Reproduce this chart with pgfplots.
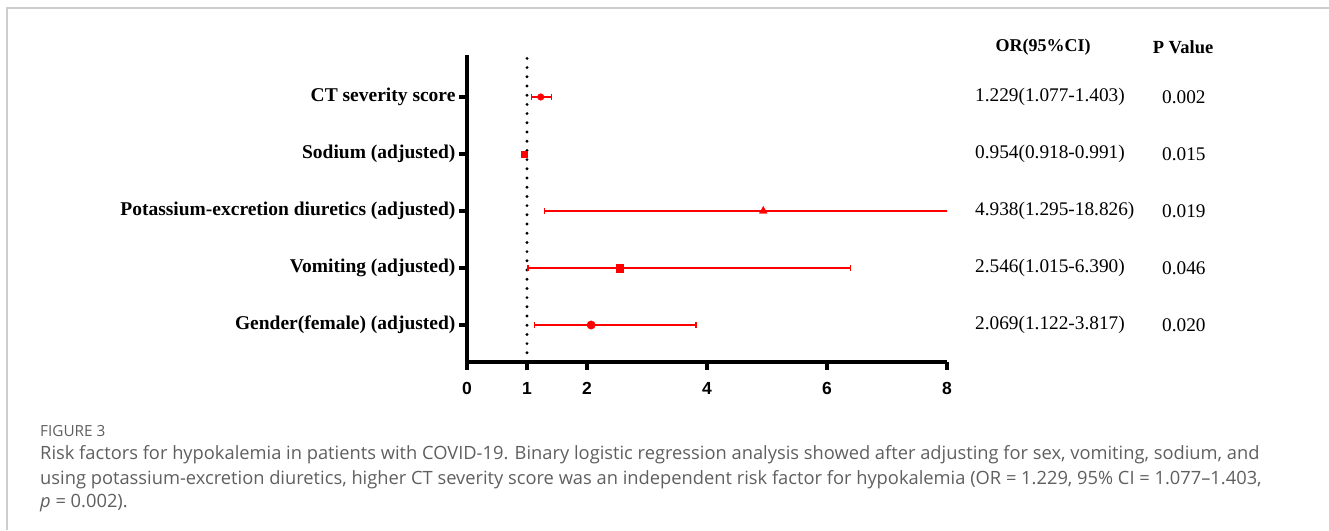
\documentclass[border=0pt]{standalone}
\usepackage{pgfplots}
\pgfplotsset{compat=1.18}
\usepackage{fontspec}
\setmainfont{Liberation Serif}
\newfontfamily\arialfont{Liberation Sans}
\newfontfamily\capfont{Open Sans}
\definecolor{capgray}{RGB}{95,95,95}
\definecolor{framegray}{RGB}{205,205,205}
\definecolor{fred}{RGB}{255,0,0}
\begin{document}
\begin{tikzpicture}
\path[use as bounding box] (0pt,0pt) rectangle (1329pt,-530pt);
\draw[framegray, line width=1.3pt] (7pt,-530pt) -- (7pt,-8pt) -- (1329pt,-8pt);
\begin{axis}[
  at={(467pt,-362pt)}, anchor=south west,
  width=480pt, height=307pt, scale only axis,
  xmin=0, xmax=8, ymin=0.351, ymax=5.737,
  axis x line=bottom, axis y line=left,
  axis line style={-, line width=3.5pt, line cap=square},
  xtick={0,1,2,4,6,8},
  ytick={1,2,3,4,5},
  yticklabels={Gender(female) (adjusted), Vomiting (adjusted), Potassium-excretion diuretics (adjusted), Sodium (adjusted), CT severity score},
  tick align=outside,
  major tick length=8pt,
  tick style={line width=3.5pt, black},
  /pgf/number format/assume math mode=true,
  x tick label style={font=\arialfont\bfseries\fontsize{17.5}{17.5}\selectfont, yshift=-9pt},
  y tick label style={font=\bfseries\fontsize{19.5}{19.5}\selectfont},
]
\addplot[black, line width=3.2pt, line cap=round, dash pattern=on 0pt off 9.2pt] coordinates {(1,0.351) (1,5.684)};
% CT severity score
\addplot[fred, only marks, mark=*, mark size=3.3pt, mark options={fill=fred, draw=fred},
  error bars/.cd, x dir=both, x explicit,
  error bar style={line width=1.3pt, fred},
  error mark options={rotate=90, mark size=3pt, line width=1.2pt, fred}]
  coordinates {(1.229,5) += (0.174,0) -= (0.152,0)};
% Sodium
\addplot[fred, only marks, mark=square*, mark size=3.3pt, mark options={fill=fred, draw=fred},
  error bars/.cd, x dir=both, x explicit,
  error bar style={line width=1.3pt, fred},
  error mark options={rotate=90, mark size=3pt, line width=1.2pt, fred}]
  coordinates {(0.954,4) += (0.037,0) -= (0.036,0)};
% Potassium-excretion diuretics
\addplot[fred, only marks, mark=triangle*, mark size=4.5pt, mark options={fill=fred, draw=fred},
  error bars/.cd, x dir=both, x explicit,
  error bar style={line width=1.3pt, fred},
  error mark options={rotate=90, mark size=3pt, line width=1.2pt, fred}]
  coordinates {(4.938,3) += (13.888,0) -= (3.643,0)};
% Vomiting
\addplot[fred, only marks, mark=square*, mark size=3.8pt, mark options={fill=fred, draw=fred},
  error bars/.cd, x dir=both, x explicit,
  error bar style={line width=1.3pt, fred},
  error mark options={rotate=90, mark size=3pt, line width=1.2pt, fred}]
  coordinates {(2.546,2) += (3.844,0) -= (1.531,0)};
% Gender
\addplot[fred, only marks, mark=*, mark size=4.2pt, mark options={fill=fred, draw=fred},
  error bars/.cd, x dir=both, x explicit,
  error bar style={line width=1.3pt, fred},
  error mark options={rotate=90, mark size=3pt, line width=1.2pt, fred}]
  coordinates {(2.069,1) += (1.748,0) -= (0.947,0)};
\end{axis}
% table columns
\node[font=\bfseries\fontsize{18}{18}\selectfont] at (1043pt,-47pt) {OR(95\%CI)};
\node[font=\bfseries\fontsize{18.5}{18.5}\selectfont] at (1183pt,-47pt) {P Value};
\begin{scope}[every node/.style={anchor=west, inner sep=0pt, font=\fontsize{19.3}{19.3}\selectfont}]
\node at (975pt,-97pt) {1.229(1.077-1.403)};
\node at (975pt,-154pt) {0.954(0.918-0.991)};
\node at (975pt,-211pt) {4.938(1.295-18.826)};
\node at (975pt,-268pt) {2.546(1.015-6.390)};
\node at (975pt,-325pt) {2.069(1.122-3.817)};
\node at (1162pt,-97pt) {0.002};
\node at (1162pt,-154pt) {0.015};
\node at (1162pt,-211pt) {0.019};
\node at (1162pt,-268pt) {0.046};
\node at (1162pt,-325pt) {0.020};
\end{scope}
% caption
\begin{scope}[every node/.style={anchor=base west, inner sep=0pt, text=capgray}]
\node[font=\capfont\fontsize{15.3}{15.3}\selectfont] at (40pt,-436pt) {FIGURE 3};
\node[font=\capfont\fontsize{18.3}{18.3}\selectfont] at (40pt,-459pt) {Risk factors for hypokalemia in patients with COVID-19. Binary logistic regression analysis showed after adjusting for sex, vomiting, sodium, and};
\node[font=\capfont\fontsize{18.3}{18.3}\selectfont] at (40pt,-484pt) {using potassium-excretion diuretics, higher CT severity score was an independent risk factor for hypokalemia (OR = 1.229, 95\% CI = 1.077–1.403,};
\node[font=\capfont\fontsize{18.3}{18.3}\selectfont] at (40pt,-507pt) {\textit{p} = 0.002).};
\end{scope}
\end{tikzpicture}
\end{document}
